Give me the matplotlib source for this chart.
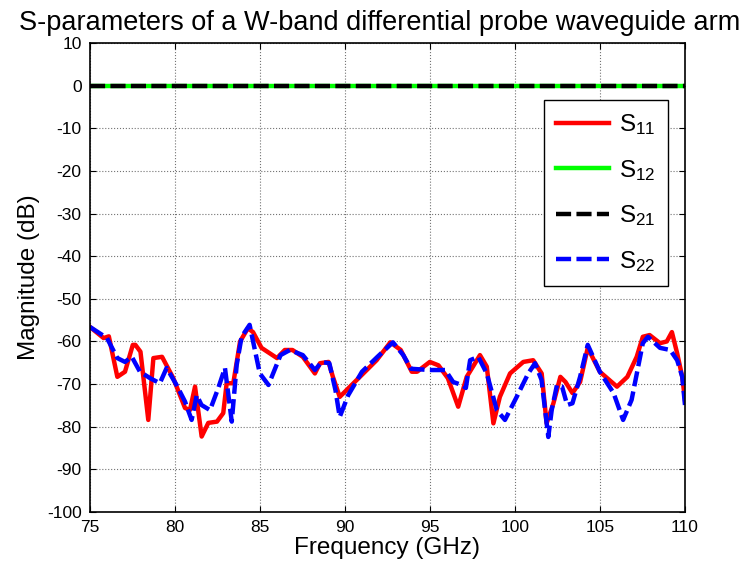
import matplotlib
matplotlib.use("Agg")
import matplotlib.pyplot as plt

plt.rcParams['font.family'] = ['Liberation Sans', 'DejaVu Sans']
plt.rcParams['mathtext.fontset'] = 'custom'
plt.rcParams['mathtext.rm'] = 'Liberation Sans'
plt.rcParams['axes.unicode_minus'] = False

# S11 (red)
s11_f = [75.0, 75.80, 76.11, 76.61, 77.06, 77.52, 77.67, 77.97, 78.43, 78.73, 79.24,
         79.90, 80.59, 80.88, 81.18, 81.57, 81.96, 82.47, 82.84, 83.04, 83.43, 83.83,
         84.29, 84.59, 85.09, 86.00, 86.46, 86.91, 87.52, 88.23, 88.53, 89.03, 89.29, 89.69,
         90.70, 91.86, 92.67, 93.28, 93.93, 94.24, 94.99, 95.50, 96.05, 96.66, 97.16,
         97.94, 98.34, 98.73, 99.11, 99.71, 100.49, 101.07, 101.57, 101.86, 102.26,
         102.67, 102.97, 103.38, 103.83, 104.28, 104.99, 106.00, 106.61, 107.16, 107.52,
         107.92, 108.53, 108.93, 109.23, 109.54, 109.84, 110.0]
s11 = [-56.6, -59.2, -58.8, -68.3, -67.1, -60.8, -60.8, -62.4, -78.4, -63.9, -63.6,
       -68.6, -75.6, -76.1, -70.6, -82.3, -79.1, -78.8, -76.8, -69.8, -69.8, -60.0,
       -56.9, -57.8, -61.5, -63.9, -62.0, -62.0, -63.6, -67.5, -65.1, -64.8, -68.3, -73.0,
       -69.0, -64.4, -60.2, -62.0, -67.1, -67.1, -64.8, -65.6, -68.6, -75.3, -68.3,
       -63.2, -65.9, -79.2, -73.0, -67.5, -64.8, -64.4, -67.5, -79.2, -74.5,
       -68.3, -69.5, -72.1, -69.5, -61.5, -67.1, -70.6, -68.3, -63.6, -58.9,
       -58.5, -60.4, -60.0, -57.8, -62.8, -68.3, -73.7]

# S22 (blue dashed)
s22_f = [75.0, 76.00, 76.61, 77.06, 77.46, 77.94, 78.53, 79.11, 79.51, 80.09, 80.59,
         80.98, 81.28, 81.56, 82.06, 82.55, 82.94, 83.34, 83.63, 83.92, 84.39, 84.99, 85.50,
         86.21, 86.76, 87.52, 88.23, 88.63, 89.08, 89.44, 89.69, 90.19, 91.00, 91.91, 92.82,
         93.43, 93.88, 94.99, 95.90, 96.36, 96.86, 97.11, 97.36, 97.84, 98.34, 98.93, 99.41,
         100.10, 100.78, 101.18, 101.56, 101.96, 102.16, 102.47, 102.77, 103.07, 103.38, 103.83,
         104.28, 104.99, 105.80, 106.36, 106.86, 107.52, 107.82, 108.53, 109.13, 109.54, 109.84, 110.0]
s22 = [-56.6, -59.2, -63.9, -64.8, -63.6, -67.1, -68.6, -69.8, -66.2, -70.2, -74.1,
       -78.4, -72.6, -74.9, -76.1, -70.9, -66.2, -78.8, -65.5, -58.9, -56.1, -67.5, -70.2,
       -63.2, -62.0, -63.2, -66.7, -64.8, -65.1, -71.4, -77.7, -72.6, -67.1, -63.6, -60.2,
       -63.2, -66.4, -66.7, -66.7, -69.5, -70.2, -70.9, -64.4, -63.6, -67.5, -76.1, -78.4,
       -73.0, -67.5, -65.1, -69.0, -82.4, -76.1, -70.2, -70.6, -74.9, -74.5, -68.3,
       -60.8, -67.1, -72.1, -78.4, -73.7, -60.4, -58.9, -61.5, -62.0, -64.4, -68.3, -74.9]

# S12 / S21 sit on 0 dB
thru_f = [75.0, 110.0]
s12 = [0.0, 0.0]
s21 = [0.0, 0.0]

fig = plt.figure(figsize=(7.51, 5.71), dpi=100)
ax = fig.add_axes([0.1198, 0.1033, 0.7923, 0.8214])

dash = (0, (3.4, 1.2))
ax.plot(s11_f, s11, color=(1, 0, 0), lw=3.2, label=r'$\mathregular{S_{11}}$')
ax.plot(thru_f, s12, color=(0, 1, 0), lw=3.2, label=r'$\mathregular{S_{12}}$')
ax.plot(thru_f, s21, color='k', lw=3.2, ls=dash, label=r'$\mathregular{S_{21}}$')
ax.plot(s22_f, s22, color=(0, 0, 1), lw=3.2, ls=dash, label=r'$\mathregular{S_{22}}$')

ax.set_xlim(75, 110)
ax.set_ylim(-100, 10)
ax.set_xticks(range(75, 111, 5))
ax.set_yticks(range(-100, 11, 10))
ax.tick_params(direction='in', top=True, right=True, labelsize=12.5, length=4, width=0.8, pad=6)
ax.grid(True, ls=':', color='0.45', lw=0.8)
for s in ax.spines.values():
    s.set_linewidth(1.2)

ax.set_xlabel('Frequency (GHz)', fontsize=17.5, labelpad=1)
ax.set_ylabel('Magnitude (dB)', fontsize=17.5, labelpad=5)
ax.set_title('S-parameters of a W-band differential probe waveguide arm', fontsize=19.5, pad=9, x=0.486)

leg = ax.legend(loc='upper right', bbox_to_anchor=(0.971, 0.8785), fontsize=17.5, handlelength=2.2,
                labelspacing=0.85, handletextpad=0.4, borderpad=0.5, borderaxespad=0,
                fancybox=False, framealpha=1, edgecolor='k')
leg.get_frame().set_linewidth(1.0)

fig.savefig('out.png', dpi=100)
